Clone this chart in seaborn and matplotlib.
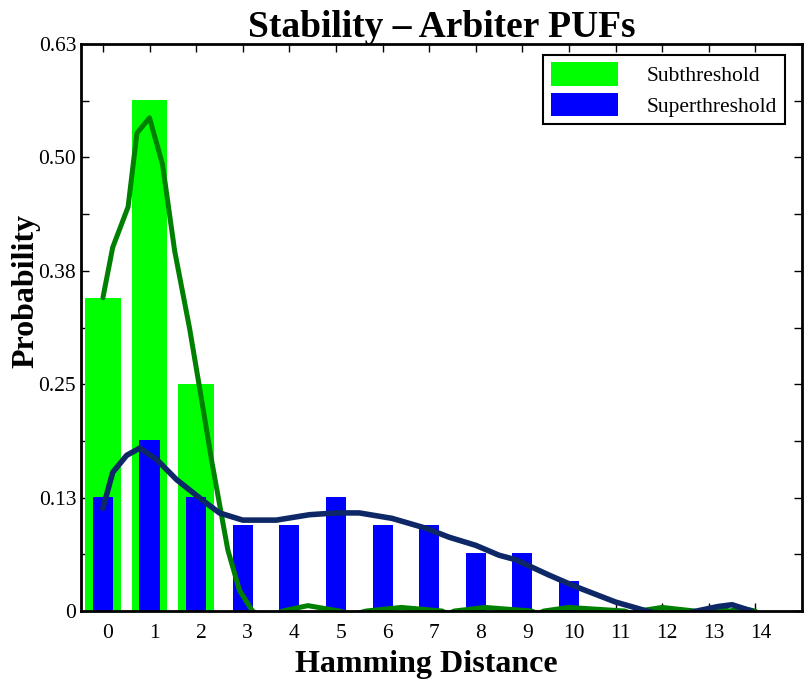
import numpy as np
import pandas as pd
import seaborn as sns
import matplotlib
matplotlib.use("Agg")
import matplotlib.pyplot as plt
from matplotlib.patches import Patch
from matplotlib.transforms import ScaledTranslation

# Hamming distance histogram values
hamming = list(range(15))
subthreshold = [0.348, 0.568, 0.252, 0, 0, 0, 0, 0, 0, 0, 0, 0, 0, 0, 0]
superthreshold = [0.127, 0.190, 0.127, 0.096, 0.096, 0.127, 0.096, 0.096,
                  0.064, 0.064, 0.033, 0, 0, 0, 0]

# Fitted density curves (sampled)
sub_fit_x = [0, 0.21, 0.54, 0.73, 1.0, 1.28, 1.54, 1.86, 2.12, 2.33, 2.68, 2.93,
             3.21, 3.5, 3.85, 4.4, 5.07, 5.35, 5.65, 6.4, 7.28, 7.4, 7.54, 8.2,
             9.2, 9.33, 9.46, 10.0, 11.2, 11.35, 11.5, 12.0, 12.7, 12.75, 12.8,
             13.2, 13.45, 13.7, 14.0]
sub_fit_y = [0.348, 0.404, 0.449, 0.531, 0.548, 0.496, 0.400, 0.314, 0.234,
             0.168, 0.068, 0.023, 0.0, -0.010, 0.0, 0.006, 0.0, -0.004, 0.0,
             0.004, 0.0, -0.003, 0.0, 0.004, 0.0, -0.003, 0.0, 0.004, 0.0,
             -0.003, 0.0, 0.004, 0.0, -0.002, 0.0, 0.003, 0.0, 0.003, 0.0]

sup_fit_x = [0, 0.21, 0.51, 0.79, 1.16, 1.58, 2.14, 2.5, 3.0, 3.72, 4.43, 5.0,
             5.5, 6.2, 6.93, 7.43, 8.0, 8.5, 8.86, 9.57, 10.15, 10.8, 11.0,
             11.67, 12.2, 12.74, 13.2, 13.5, 13.92]
sup_fit_y = [0.114, 0.154, 0.173, 0.181, 0.168, 0.146, 0.123, 0.109, 0.101,
             0.101, 0.107, 0.109, 0.109, 0.103, 0.092, 0.082, 0.073, 0.062,
             0.057, 0.040, 0.027, 0.014, 0.010, 0.0, -0.006, 0.0, 0.005, 0.007,
             0.0]

y_ticks = [0, 0.063, 0.126, 0.189, 0.252, 0.315, 0.378, 0.441, 0.504, 0.567, 0.63]
y_tick_labels = ["0", "", "0.13", "", "0.25", "", "0.38", "", "0.50", "", "0.63"]
x_tick_labels = [str(h) for h in hamming]

sns.set_theme(style="white")
plt.rcParams["font.family"] = ["Liberation Serif", "DejaVu Serif"]
plt.rcParams["text.color"] = "black"
plt.rcParams["axes.labelcolor"] = "black"
plt.rcParams["xtick.color"] = "black"
plt.rcParams["ytick.color"] = "black"

fig = plt.figure(figsize=(8.06, 6.79), dpi=100)
ax = fig.add_axes([0.1005, 0.1001, 0.8945, 0.8351])

bars = pd.DataFrame({"hd": hamming, "sub": subthreshold, "sup": superthreshold})
sns.barplot(data=bars, x="hd", y="sub", color="#00ff00", saturation=1,
            width=0.77, errorbar=None, linewidth=0, ax=ax, zorder=1)
sns.barplot(data=bars, x="hd", y="sup", color="#0000ff", saturation=1,
            width=0.43, errorbar=None, linewidth=0, ax=ax, zorder=2)

sns.lineplot(x=sub_fit_x, y=sub_fit_y, color="#008000", linewidth=3.6,
             ax=ax, zorder=3, sort=False)
sns.lineplot(x=sup_fit_x, y=sup_fit_y, color="#0e2766", linewidth=4.0,
             ax=ax, zorder=4, sort=False)

ax.set_xlim(-0.47, 15.0)
ax.set_ylim(0, 0.63)
ax.set_xticks(hamming)
ax.set_xticklabels(x_tick_labels)
ax.set_yticks(y_ticks)
ax.set_yticklabels(y_tick_labels)

ax.tick_params(axis="both", which="major", direction="in", length=5.5, width=1,
               color="black", labelsize=15.5, labelcolor="black",
               top=True, right=True, bottom=True, left=True)
ax.tick_params(axis="x", pad=9)
ax.tick_params(axis="y", pad=3.5)
for lbl in ax.get_xticklabels():
    lbl.set_transform(lbl.get_transform() + ScaledTranslation(0.05, 0, fig.dpi_scale_trans))

for side in ["left", "right", "top", "bottom"]:
    ax.spines[side].set_visible(True)
    ax.spines[side].set_color("black")
    ax.spines[side].set_linewidth(2)
    ax.spines[side].set_zorder(6)

ax.set_title("Stability \u2013 Arbiter PUFs", fontsize=27, fontweight="bold",
             pad=5, color="black")
ax.set_xlabel("Hamming Distance", fontsize=23, fontweight="bold", color="black")
ax.set_ylabel("Probability", fontsize=23, fontweight="bold", color="black")
ax.xaxis.set_label_coords(0.479, -0.068)
ax.yaxis.set_label_coords(-0.056, 0.564)

handles = [Patch(facecolor="#00ff00", edgecolor="none", label="Subthreshold"),
           Patch(facecolor="#0000ff", edgecolor="none", label="Superthreshold")]
leg = ax.legend(handles=handles, loc="upper right", bbox_to_anchor=(0.976, 0.981),
                borderaxespad=0, fontsize=15.5, handlelength=3.1, handleheight=1.3,
                handletextpad=1.35, fancybox=False, framealpha=1, frameon=True,
                borderpad=0.35, labelspacing=0.3)
leg.get_frame().set_edgecolor("black")
leg.get_frame().set_linewidth(1.5)
leg.set_zorder(7)
for t in leg.get_texts():
    t.set_color("black")

fig.savefig("out.png", dpi=100)
